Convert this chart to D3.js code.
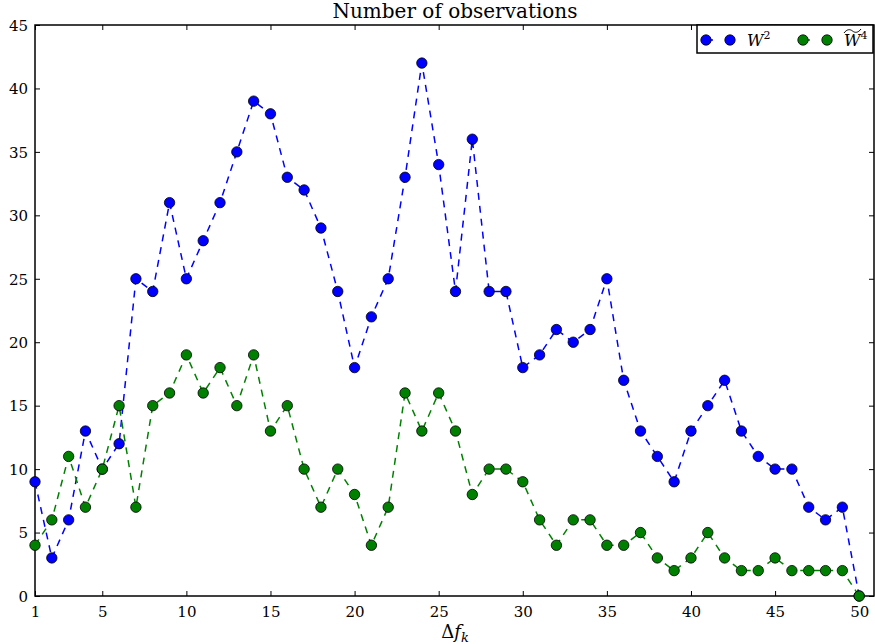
<!DOCTYPE html>
<html>
<head>
<meta charset="utf-8">
<script src="https://cdn.jsdelivr.net/npm/d3@7"></script>
<style>
  body { margin: 0; background: #fff; }
  text { font-family: "DejaVu Serif", serif; fill: #000; }
</style>
</head>
<body>
<script>
// data
var deltaF = d3.range(1, 51)
var w2 = [9, 3, 6, 13, 10, 12, 25, 24, 31, 25, 28, 31, 35, 39, 38, 33, 32, 29, 24, 18,
          22, 25, 33, 42, 34, 24, 36, 24, 24, 18, 19, 21, 20, 21, 25, 17, 13, 11, 9, 13,
          15, 17, 13, 11, 10, 10, 7, 6, 7, 0]
var w4 = [4, 6, 11, 7, 10, 15, 7, 15, 16, 19, 16, 18, 15, 19, 13, 15, 10, 7, 10, 8,
          4, 7, 16, 13, 16, 13, 8, 10, 10, 9, 6, 4, 6, 6, 4, 4, 5, 3, 2, 3,
          5, 3, 2, 2, 3, 2, 2, 2, 2, 0]
var xTicks = [1, 5, 10, 15, 20, 25, 30, 35, 40, 45, 50]
var yTicks = d3.range(0, 50, 5)

var width = 875, height = 644
var margin = {top: 25, right: 0, bottom: 48, left: 35}
var iw = width - margin.left - margin.right
var ih = height - margin.top - margin.bottom

var svg = d3.select("body").append("svg")
    .attr("width", width).attr("height", height)

var g = svg.append("g").attr("transform", "translate(" + margin.left + "," + margin.top + ")")

var x = d3.scaleLinear().domain([1, 51]).range([0, iw + 1])
var y = d3.scaleLinear().domain([0, 45]).range([ih, 0])

// axes (ticks point inward, on all four sides)
var bottom = g.append("g").attr("transform", "translate(0," + ih + ")")
    .call(d3.axisBottom(x).tickValues(xTicks).tickSizeInner(-5).tickSizeOuter(0).tickPadding(8))
var top_ = g.append("g")
    .call(d3.axisTop(x).tickValues(xTicks).tickSizeInner(-5).tickSizeOuter(0).tickFormat(""))
var left = g.append("g")
    .call(d3.axisLeft(y).tickValues(yTicks).tickSizeInner(-5).tickSizeOuter(0).tickPadding(7))
var right = g.append("g").attr("transform", "translate(" + (iw - 1) + ",0)")
    .call(d3.axisRight(y).tickValues(yTicks).tickSizeInner(-5).tickSizeOuter(0).tickFormat(""))

g.selectAll(".domain").remove()
g.selectAll(".tick line").attr("stroke", "#000").attr("stroke-width", 1)
g.selectAll(".tick text").attr("font-family", "DejaVu Serif").attr("font-size", 15)
bottom.selectAll(".tick text").attr("dy", "0.85em")
left.selectAll(".tick text").attr("dy", "0.35em")

g.append("rect").attr("width", iw - 1).attr("height", ih)
    .attr("fill", "none").attr("stroke", "#000").attr("stroke-width", 1.5)

function drawSeries(values, color) {
    var pts = deltaF.map(function(d, i) { return {x: d, y: values[i]} })
    g.append("path").datum(pts)
        .attr("fill", "none")
        .attr("stroke", color)
        .attr("stroke-width", 1.5)
        .attr("stroke-dasharray", "7,6")
        .attr("d", d3.line().x(d => x(d.x)).y(d => y(d.y)))
    g.append("g").selectAll("circle").data(pts).join("circle")
        .attr("cx", d => x(d.x)).attr("cy", d => y(d.y)).attr("r", 5.2)
        .attr("fill", color).attr("stroke", "#000").attr("stroke-width", 0.8)
}
drawSeries(w2, "#0000ff")
drawSeries(w4, "#008000")

// title and x label
svg.append("text").attr("x", 455).attr("y", 18).attr("text-anchor", "middle")
    .attr("font-size", 20).text("Number of observations")

var xl = svg.append("text").attr("x", 455).attr("y", 638).attr("text-anchor", "middle")
    .attr("font-size", 18)
xl.append("tspan").text("Δ")
xl.append("tspan").attr("font-style", "italic").text("f")
xl.append("tspan").attr("font-style", "italic").attr("font-size", 13).attr("dy", 4).text("k")

// legend
var lg = svg.append("g").attr("transform", "translate(697,25)")
lg.append("rect").attr("width", 176).attr("height", 28)
    .attr("fill", "#fff").attr("stroke", "#000").attr("stroke-width", 1.5)

var items = [
    {label: "W", sup: "2", color: "#0000ff", x0: 9, tilde: false},
    {label: "W", sup: "4", color: "#008000", x0: 106, tilde: true}
]
items.forEach(function(it) {
    var row = lg.append("g").attr("transform", "translate(" + it.x0 + ",15)")
    row.append("line").attr("x1", 0).attr("x2", 24).attr("stroke", it.color)
        .attr("stroke-width", 1.5).attr("stroke-dasharray", "7,20")
    row.selectAll("circle").data([0, 24]).join("circle")
        .attr("cx", d => d).attr("r", 5.2).attr("fill", it.color)
        .attr("stroke", "#000").attr("stroke-width", 0.8)
    var t = row.append("text").attr("x", 41).attr("y", 6).attr("font-size", 16)
    t.append("tspan").attr("font-style", "italic").text(it.label)
    t.append("tspan").attr("font-size", 11).attr("dy", -7).text(it.sup)
    if (it.tilde) {
        // wide tilde over the W
        row.append("path")
            .attr("d", "M41,-7 C44,-11 47,-11 49.5,-9 C52,-7 55,-7 58,-11")
            .attr("fill", "none").attr("stroke", "#000").attr("stroke-width", 1)
    }
})
</script>
</body>
</html>
